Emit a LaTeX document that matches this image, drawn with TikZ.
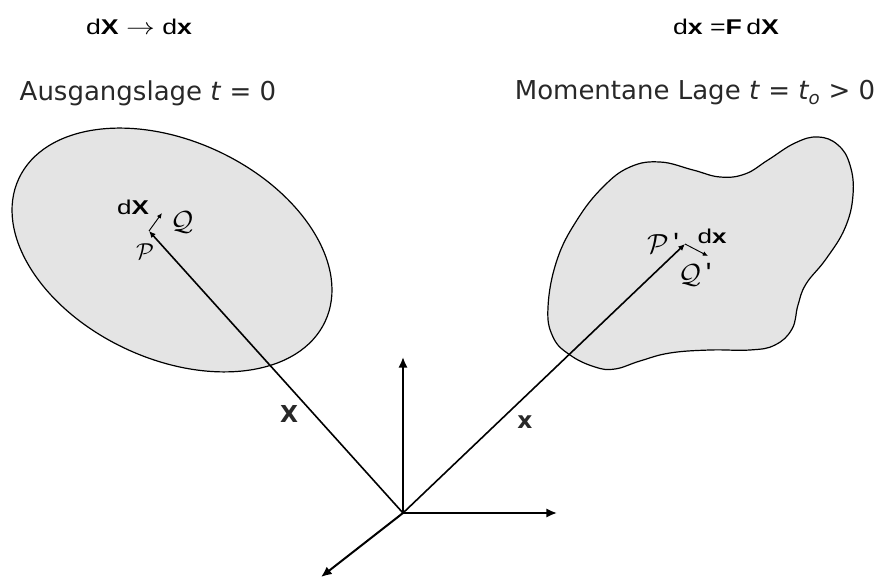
\documentclass[tikz,border=0pt]{standalone}
\usepackage{fontspec}
\usetikzlibrary{arrows.meta}
\setmainfont{Liberation Sans}
\newfontfamily\verdfont{DejaVu Sans}
\definecolor{bodyGray}{RGB}{228,228,228}
\definecolor{labelInk}{RGB}{40,40,40}
\newcommand{\breit}[2]{\scalebox{#1}[1]{#2}}

\begin{document}
\begin{tikzpicture}[x=0.75pt,y=-0.75pt]
            \tikzset{lage/.style={font=\verdfont\fontsize{19.5}{22}\selectfont, text=labelInk, inner sep=0pt},
                     formel/.style={font=\fontsize{16}{18}\selectfont, inner sep=0pt},
                     klein/.style={font=\fontsize{15}{17}\selectfont, inner sep=0pt},
                     punkt/.style={font=\fontsize{18.5}{20}\selectfont, inner sep=0pt},
                     gross/.style={font=\fontsize{22}{24}\selectfont, inner sep=0pt},
                     vlabel/.style={font=\verdfont\bfseries\fontsize{17.5}{20}\selectfont, text=labelInk, inner sep=0pt},
                     body/.style={fill=bodyGray, draw=black, line width=0.9pt}}

            \useasboundingbox (0,0) rectangle (882,580);

            \draw[body, rotate around={-25:(172,250)}] (172,250) ellipse (169 and 109);
            \draw[body] plot[smooth cycle, tension=0.7] coordinates {
                (548,307) (553,337) (570,355) (595,367) (615,369) (640,361) (670,353) (710,350)
                (750,350) (775,345) (792,329) (798,305) (806,284) (826,259) (845,228) (853,195)
                (850,165) (838,145) (818,137) (795,143) (768,160) (745,174) (720,177) (693,170)
                (660,162) (630,167) (603,187) (577,220) (557,260)};

            \coordinate (origin) at (403,513);
            \coordinate (e1) at (557,513);
            \coordinate (e2) at (321,577);
            \coordinate (e3) at (403,357);
            \coordinate (p0) at (149,231);
            \coordinate (q0) at (162,213);
            \coordinate (p1) at (685,244);
            \coordinate (q1) at (708,256);

            \draw[-{Latex[length=8pt,width=7pt]}, line width=1.5pt] (origin) -- (e1);
            \draw[-{Latex[length=8pt,width=7pt]}, line width=1.5pt] (origin) -- (e2);
            \draw[-{Latex[length=8pt,width=7pt]}, line width=1.5pt] (origin) -- (e3);

            \draw[-{Latex[length=5pt,width=4.5pt]}, line width=1.2pt] (origin) -- (p0);
            \draw[-{Latex[length=5pt,width=4.5pt]}, line width=1.2pt] (origin) -- (p1);
            \draw[-{Latex[length=4pt,width=3.5pt]}, line width=0.7pt] (p0) -- (q0);
            \draw[-{Latex[length=4pt,width=3.5pt]}, line width=0.7pt] (p1) -- (q1);

            \node[formel] (kopfLinks) at (139,27) {\breit{1.25}{d\textbf{X} $\rightarrow$ d\textbf{x}}};
            \node[formel] (kopfRechts) at (726,27) {\breit{1.25}{d\textbf{x} =\textbf{F}\,d\textbf{X}}};

            \node[lage] (ausgang) at (148,93) {Ausgangslage \textit{t} = 0};
            \node[lage] (momentan) at (695,93) {Momentane Lage \textit{t} = \textit{t\textsubscript{o}} > 0};

            \node[klein] (dX) at (133,207) {\breit{1.3}{d\textbf{X}}};
            \node[gross] (Q) at (182,222) {$\mathcal{Q}$};
            \node[punkt] (P) at (145,252) {$\mathcal{P}$};
            \node[gross] (P1) at (663,243) {$\mathcal{P}$\,\textquotesingle};
            \node[klein] (dx) at (712,236) {\breit{1.3}{d\textbf{x}}};
            \node[gross] (Q1) at (695,275) {$\mathcal{Q}$\,\textquotesingle};

            \node[vlabel] (X) at (289,414) {X};
            \node[vlabel] (x) at (525,422) {x};
        \end{tikzpicture}
\end{document}
